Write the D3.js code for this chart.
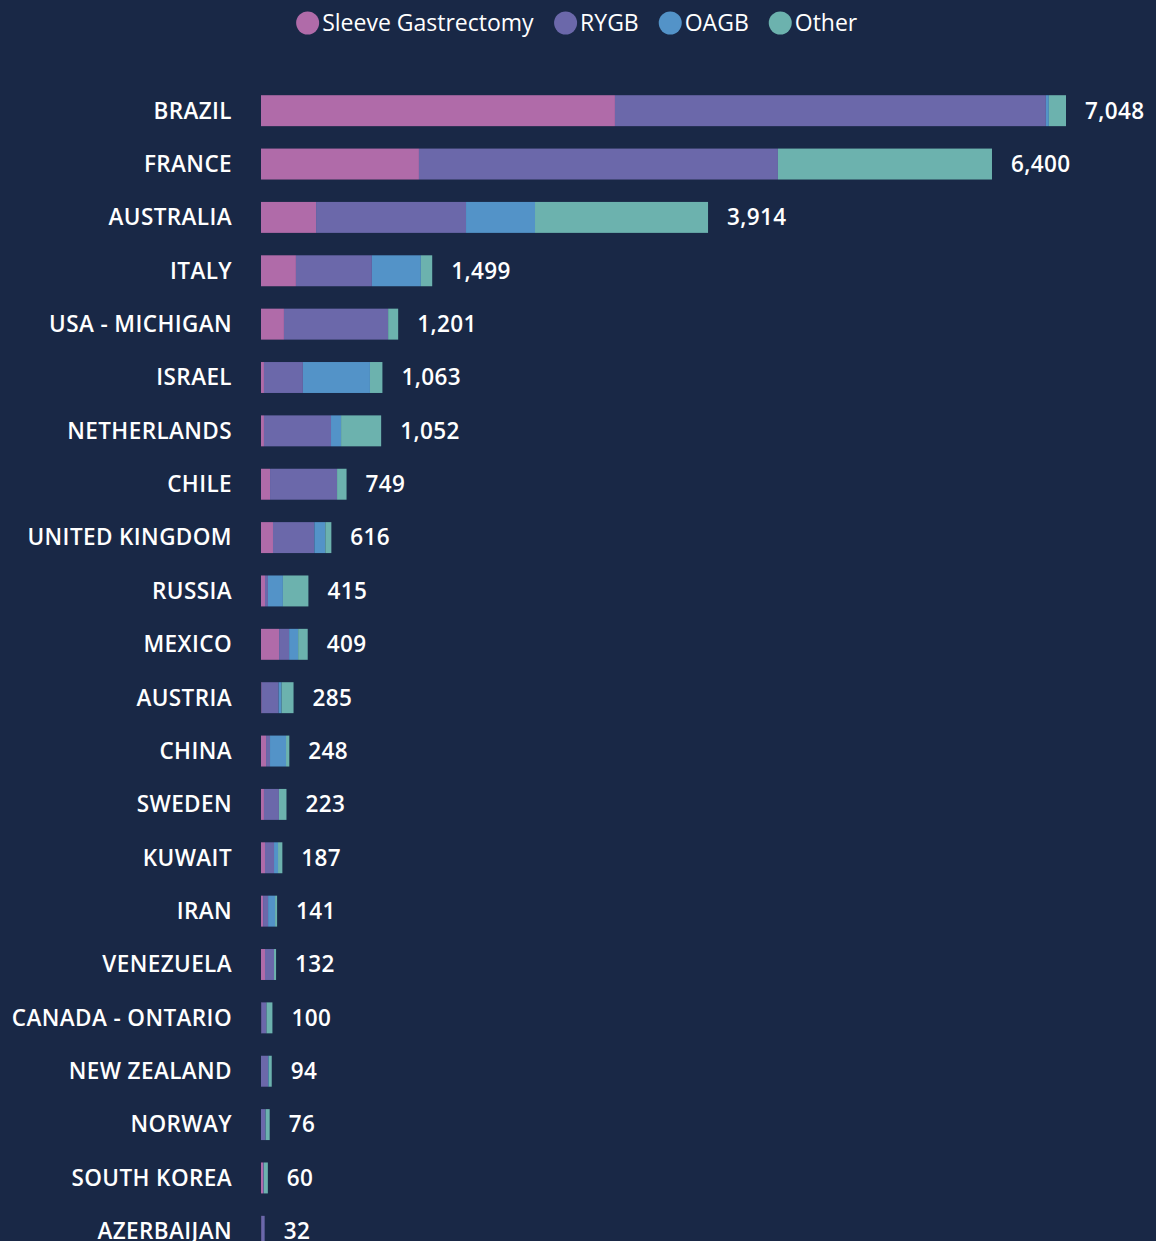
<!DOCTYPE html>
<html>
<head>
<meta charset="utf-8">
<script src="https://cdn.jsdelivr.net/npm/d3@7"></script>
<style>
  html, body { margin: 0; padding: 0; background: #192846; }
  svg { display: block; }
</style>
</head>
<body>
<div id="chart"></div>
<script>
// Data
const countries = [
    "BRAZIL", "FRANCE", "AUSTRALIA", "ITALY", "USA - MICHIGAN", "ISRAEL",
    "NETHERLANDS", "CHILE", "UNITED KINGDOM", "RUSSIA", "MEXICO", "AUSTRIA",
    "CHINA", "SWEDEN", "KUWAIT", "IRAN", "VENEZUELA", "CANADA - ONTARIO",
    "NEW ZEALAND", "NORWAY", "SOUTH KOREA", "AZERBAIJAN"
];
const sleeve = [3099, 1383, 482, 306, 201, 26, 26, 79, 105, 35, 158, 5, 44, 26, 35, 18, 35, 3, 0, 0, 18, 3];
const rygb   = [3773, 3143, 1313, 665, 912, 341, 587, 587, 362, 26, 88, 149, 35, 131, 79, 44, 79, 45, 62, 38, 7, 29];
const oagb   = [26, 0, 604, 429, 0, 587, 88, 0, 96, 131, 79, 26, 140, 0, 35, 61, 0, 0, 6, 3, 0, 0];
const other  = [150, 1874, 1515, 99, 88, 109, 351, 83, 53, 223, 84, 105, 29, 66, 38, 18, 18, 52, 26, 35, 35, 0];

const seriesNames = ["Sleeve Gastrectomy", "RYGB", "OAGB", "Other"];
const seriesColors = ["#b06ba9", "#6b68aa", "#5393c8", "#6cb2ae"];

document.addEventListener("DOMContentLoaded", function () {
    const width = 1156, height = 1241;
    const left = 261;
    const font = "'Open Sans', Lato, sans-serif";

    const keys = ["sleeve", "rygb", "oagb", "other"];
    const rows = countries.map((c, i) => ({
        country: c,
        sleeve: sleeve[i],
        rygb: rygb[i],
        oagb: oagb[i],
        other: other[i],
        total: sleeve[i] + rygb[i] + oagb[i] + other[i]
    }));

    const stacked = d3.stack().keys(keys)(rows);

    const x = d3.scaleLinear()
        .domain([0, d3.max(rows, d => d.total)])
        .range([left, 1066]);

    const y = d3.scaleBand()
        .domain(countries)
        .range([84, 1258])
        .paddingInner(0.42)
        .paddingOuter(0.21);

    const color = d3.scaleOrdinal(keys, seriesColors);

    const svg = d3.select("#chart")
        .append("svg")
        .attr("width", width)
        .attr("height", height);

    svg.append("rect")
        .attr("width", width)
        .attr("height", height)
        .attr("fill", "#192846");

    // Bars
    svg.append("g")
        .selectAll("g")
        .data(stacked)
        .join("g")
        .attr("fill", d => color(d.key))
        .selectAll("rect")
        .data(d => d)
        .join("rect")
        .attr("x", d => x(d[0]))
        .attr("y", d => y(d.data.country))
        .attr("width", d => Math.max(0, x(d[1]) - x(d[0])))
        .attr("height", y.bandwidth());

    // Country labels
    svg.append("g")
        .selectAll("text")
        .data(rows)
        .join("text")
        .attr("x", 232)
        .attr("y", d => y(d.country) + y.bandwidth() / 2)
        .attr("dy", "0.35em")
        .attr("text-anchor", "end")
        .attr("fill", "#ffffff")
        .style("font-family", font)
        .style("font-weight", "600")
        .style("font-size", "22.5px")
        .style("letter-spacing", "0.4px")
        .text(d => d.country);

    // Totals
    svg.append("g")
        .selectAll("text")
        .data(rows)
        .join("text")
        .attr("x", d => x(d.total) + 19)
        .attr("y", d => y(d.country) + y.bandwidth() / 2)
        .attr("dy", "0.35em")
        .attr("fill", "#ffffff")
        .style("font-family", font)
        .style("font-weight", "600")
        .style("font-size", "22.5px")
        .style("letter-spacing", "0.4px")
        .text(d => d3.format(",")(d.total));

    // Legend
    const legend = svg.append("g").attr("transform", "translate(0,23)");
    const items = legend.selectAll("g")
        .data(seriesNames)
        .join("g");

    items.append("circle")
        .attr("r", 11.5)
        .attr("fill", (d, i) => seriesColors[i]);

    items.append("text")
        .attr("x", 14.5)
        .attr("dy", "0.35em")
        .attr("fill", "#ffffff")
        .style("font-family", font)
        .style("font-weight", "400")
        .style("font-size", "23px")
        .text(d => d);

    // Lay out legend items in a centred row
    let cursor = 0;
    const offsets = [];
    items.each(function () {
        const w = this.getBBox().width;
        offsets.push(cursor + 11.5);
        cursor += w + 20;
    });
    const total = cursor - 20;
    const start = 577 - total / 2;
    items.attr("transform", (d, i) => `translate(${start + offsets[i]},0)`);
});
</script>
</body>
</html>
